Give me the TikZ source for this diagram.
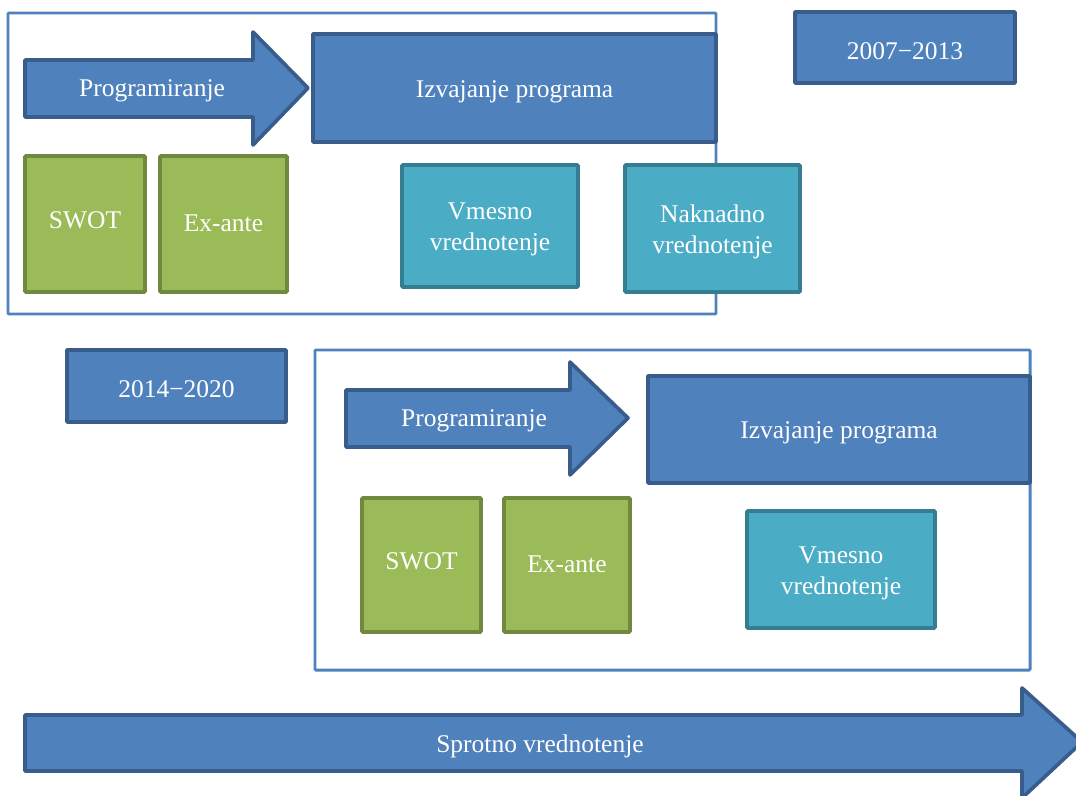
\documentclass[tikz,border=0pt]{standalone}
\usepackage{fontspec}
\setmainfont{Liberation Serif}
\usetikzlibrary{calc}

\definecolor{bluefill}{HTML}{4F81BD}
\definecolor{blueline}{HTML}{385D8A}
\definecolor{greenfill}{HTML}{9BBB59}
\definecolor{greenline}{HTML}{71893F}
\definecolor{tealfill}{HTML}{4BACC6}
\definecolor{tealline}{HTML}{357D91}
\definecolor{framecol}{HTML}{4F81BD}

\tikzset{
  periodframe/.style={draw=framecol,line width=1.7pt,rounded corners=0.5pt},
  bluebox/.style={draw=blueline,fill=bluefill,line width=2.1pt,line join=round},
  greenbox/.style={draw=greenline,fill=greenfill,line width=2.1pt,rounded corners=0.5pt},
  tealbox/.style={draw=tealline,fill=tealfill,line width=2.1pt,rounded corners=0.5pt},
  lbl/.style={text=white,font=\fontsize{14.5}{17.5}\selectfont,align=center,inner sep=0pt,yshift=-0.7mm}
}

\begin{document}
\begin{tikzpicture}[x=0.2mm,y=-0.2mm]
\useasboundingbox (0,0) rectangle (1076,796);
% first period 2007-2013
\draw[periodframe] (8,13) rectangle (716,314);
\draw[bluebox] (25,60) -- (253,60) -- (253,32) -- (308,88) -- (253,145) -- (253,117) -- (25,117) -- cycle;
\node[lbl] (progA) at (152,87) {Programiranje};
\draw[bluebox] (313,34) rectangle (716,142) node[pos=0.5,lbl] (izvA) {Izvajanje programa};
\draw[bluebox] (795,12) rectangle (1015,83) node[pos=0.5,lbl] (perA) {2007−2013};
\draw[greenbox] (25,156) rectangle (145,292) node[pos=0.5,lbl,yshift=1.5mm] (swotA) {SWOT};
\draw[greenbox] (160,156) rectangle (287,292) node[pos=0.5,lbl,yshift=0.9mm] (exA) {Ex-ante};
\draw[tealbox] (402,165) rectangle (578,287) node[pos=0.5,lbl] (vmA) {Vmesno\\vrednotenje};
\draw[tealbox] (625,165) rectangle (800,292) node[pos=0.5,lbl] (nakA) {Naknadno\\vrednotenje};

% second period 2014-2020
\draw[periodframe] (315,350) rectangle (1030,670);
\draw[bluebox] (67,350) rectangle (286,422) node[pos=0.5,lbl] (perB) {2014−2020};
\draw[bluebox] (346,390) -- (570,390) -- (570,362) -- (628,418) -- (570,475) -- (570,447) -- (346,447) -- cycle;
\node[lbl] (progB) at (474,417) {Programiranje};
\draw[bluebox] (648,376) rectangle (1030,483) node[pos=0.5,lbl] (izvB) {Izvajanje programa};
\draw[greenbox] (362,498) rectangle (481,632) node[pos=0.5,lbl,yshift=1.5mm] (swotB) {SWOT};
\draw[greenbox] (504,498) rectangle (630,632) node[pos=0.5,lbl,yshift=0.9mm] (exB) {Ex-ante};
\draw[tealbox] (747,511) rectangle (935,628) node[pos=0.5,lbl] (vmB) {Vmesno\\vrednotenje};

% ongoing evaluation along the whole timeline
\begin{scope}
\clip (0,0) rectangle (1076,796);
\draw[bluebox] (25,715) -- (1022,715) -- (1022,688) -- (1082,742) -- (1022,798) -- (1022,771) -- (25,771) -- cycle;
\end{scope}
\node[lbl] (sprotno) at (540,743) {Sprotno vrednotenje};
\end{tikzpicture}
\end{document}
